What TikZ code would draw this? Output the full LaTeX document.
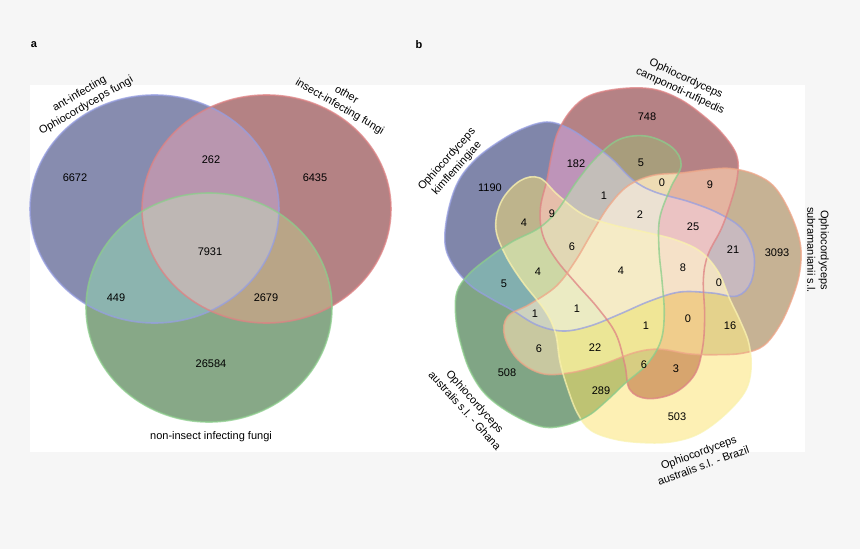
\documentclass[tikz,border=0pt]{standalone}
\usepackage{fontspec}
\setmainfont{Liberation Sans}
\definecolor{bggray}{RGB}{246,246,246}
% left panel
\definecolor{lB}{RGB}{135,140,175}
\definecolor{lR}{RGB}{180,130,132}
\definecolor{lG}{RGB}{135,168,135}
\definecolor{lBR}{RGB}{185,150,175}
\definecolor{lBG}{RGB}{140,180,175}
\definecolor{lRG}{RGB}{185,165,135}
\definecolor{lBRG}{RGB}{190,183,180}
\definecolor{eB}{RGB}{150,158,225}
\definecolor{eR}{RGB}{222,130,132}
\definecolor{eG}{RGB}{140,205,140}
\definecolor{eO}{RGB}{238,165,135}
\definecolor{eY}{RGB}{250,242,175}
% right panel
\definecolor{cB}{RGB}{128,134,170}
\definecolor{cR}{RGB}{181,130,133}
\definecolor{cO}{RGB}{198,178,148}
\definecolor{cY}{RGB}{253,240,180}
\definecolor{cG}{RGB}{128,165,133}
\definecolor{cBR}{RGB}{190,148,185}
\definecolor{cRG}{RGB}{168,157,124}
\definecolor{cRO}{RGB}{228,180,160}
\definecolor{cBY}{RGB}{190,180,140}
\definecolor{cBO}{RGB}{200,185,190}
\definecolor{cBG}{RGB}{130,175,175}
\definecolor{cOY}{RGB}{228,210,140}
\definecolor{cOG}{RGB}{200,200,160}
\definecolor{cRY}{RGB}{215,165,110}
\definecolor{cYG}{RGB}{190,195,115}
\definecolor{cROG}{RGB}{238,220,180}
\definecolor{cBRG}{RGB}{195,190,185}
\definecolor{cBRY}{RGB}{230,190,170}
\definecolor{cBRO}{RGB}{235,195,195}
\definecolor{cBYG}{RGB}{205,215,165}
\definecolor{cBOY}{RGB}{240,225,195}
\definecolor{cBOG}{RGB}{205,210,190}
\definecolor{cROY}{RGB}{240,205,140}
\definecolor{cOYG}{RGB}{235,230,150}
\definecolor{cRYG}{RGB}{215,205,130}
\definecolor{cBROG}{RGB}{235,225,210}
\definecolor{cBRYG}{RGB}{225,215,180}
\definecolor{cBROY}{RGB}{245,225,200}
\definecolor{cBOYG}{RGB}{235,235,195}
\definecolor{cROYG}{RGB}{240,230,150}
\definecolor{cALL}{RGB}{245,235,198}
\newcommand{\vblob}{plot[smooth cycle,tension=0.6] coordinates {(445,243) (448,212) (458,182) (475,160) (497,143) (522,129) (547,122) (568,128) (590,142) (612,159) (633,180) (655,192) (690,202) (720,214) (743,230) (754,255) (751,282) (737,296) (712,293) (680,292) (650,301) (620,314) (590,326) (563,331) (537,325) (512,310) (490,298) (470,285) (453,265)}}
\newcommand{\vreg}[3]{\begin{scope}#1\fill[#2,fill=#3]\vblob;\end{scope}}
\newcommand{\ellB}{(154.5,209) ellipse [x radius=124.5pt, y radius=114pt]}
\newcommand{\ellR}{(266.5,209) ellipse [x radius=124.5pt, y radius=114pt]}
\newcommand{\ellG}{(209,307.5) ellipse [x radius=123pt, y radius=114.5pt]}
\begin{document}
\begin{tikzpicture}[x=1pt,y=-1pt,
  num/.style={font=\fontsize{11}{13}\selectfont, inner sep=0pt},
  lab/.style={font=\fontsize{11}{13.5}\selectfont, align=center, inner sep=0pt},
  panel/.style={font=\fontsize{11}{13}\selectfont\bfseries, inner sep=0pt},
  shB/.style={}, shR/.style={rotate around={-72:(619,269)}},
  shO/.style={rotate around={-144:(619,269)}},
  shY/.style={rotate around={144:(619,269)}},
  shG/.style={rotate around={72:(619,269)}},
  edge/.style={line width=1.6pt, opacity=0.75}]
\fill[bggray] (0,0) rectangle (860,549);
\useasboundingbox (0,0) rectangle (860,549);
\fill[white] (30,85) rectangle (805,452);
\node[panel] (pa) at (34,45) {a};
\node[panel] (pb) at (419,45) {b};
% ---------- panel a ----------
\fill[lB] \ellB; \fill[lR] \ellR; \fill[lG] \ellG;
\begin{scope}\clip \ellB; \fill[lBR] \ellR; \end{scope}
\begin{scope}\clip \ellB; \fill[lBG] \ellG; \end{scope}
\begin{scope}\clip \ellR; \fill[lRG] \ellG; \end{scope}
\begin{scope}\clip \ellB; \clip \ellR; \fill[lBRG] \ellG; \end{scope}
\draw[eB, edge] \ellB; \draw[eR, edge] \ellR; \draw[eG, edge] \ellG;
\node[num] (a1) at (75,178) {6672};
\node[num] (a2) at (211,160) {262};
\node[num] (a3) at (315,178) {6435};
\node[num] (a4) at (210,252) {7931};
\node[num] (a5) at (116,298) {449};
\node[num] (a6) at (266,298) {2679};
\node[num] (a7) at (211,364) {26584};
\node[lab] (la3) at (211,437) {non-insect infecting fungi};
\node[lab, rotate=30] (la1) at (83,100) {ant-infecting\\Ophiocordyceps fungi};
\node[lab, rotate=-30] (la2) at (343,101) {other\\insect-infecting fungi};
% ---------- panel b ----------
% singles
\vreg{}{shB}{cB} \vreg{}{shR}{cR} \vreg{}{shO}{cO} \vreg{}{shY}{cY} \vreg{}{shG}{cG}
% pairs
\vreg{\clip[shB]\vblob;}{shR}{cBR}
\vreg{\clip[shB]\vblob;}{shO}{cBO}
\vreg{\clip[shB]\vblob;}{shY}{cBY}
\vreg{\clip[shB]\vblob;}{shG}{cBG}
\vreg{\clip[shR]\vblob;}{shO}{cRO}
\vreg{\clip[shR]\vblob;}{shY}{cRY}
\vreg{\clip[shR]\vblob;}{shG}{cRG}
\vreg{\clip[shO]\vblob;}{shY}{cOY}
\vreg{\clip[shO]\vblob;}{shG}{cOG}
\vreg{\clip[shY]\vblob;}{shG}{cYG}
% triples
\vreg{\clip[shB]\vblob;\clip[shR]\vblob;}{shO}{cBRO}
\vreg{\clip[shB]\vblob;\clip[shR]\vblob;}{shY}{cBRY}
\vreg{\clip[shB]\vblob;\clip[shR]\vblob;}{shG}{cBRG}
\vreg{\clip[shB]\vblob;\clip[shO]\vblob;}{shY}{cBOY}
\vreg{\clip[shB]\vblob;\clip[shO]\vblob;}{shG}{cBOG}
\vreg{\clip[shB]\vblob;\clip[shY]\vblob;}{shG}{cBYG}
\vreg{\clip[shR]\vblob;\clip[shO]\vblob;}{shY}{cROY}
\vreg{\clip[shR]\vblob;\clip[shO]\vblob;}{shG}{cROG}
\vreg{\clip[shR]\vblob;\clip[shY]\vblob;}{shG}{cRYG}
\vreg{\clip[shO]\vblob;\clip[shY]\vblob;}{shG}{cOYG}
% quads
\vreg{\clip[shB]\vblob;\clip[shR]\vblob;\clip[shO]\vblob;}{shY}{cBROY}
\vreg{\clip[shB]\vblob;\clip[shR]\vblob;\clip[shO]\vblob;}{shG}{cBROG}
\vreg{\clip[shB]\vblob;\clip[shR]\vblob;\clip[shY]\vblob;}{shG}{cBRYG}
\vreg{\clip[shB]\vblob;\clip[shO]\vblob;\clip[shY]\vblob;}{shG}{cBOYG}
\vreg{\clip[shR]\vblob;\clip[shO]\vblob;\clip[shY]\vblob;}{shG}{cROYG}
% all five
\vreg{\clip[shB]\vblob;\clip[shR]\vblob;\clip[shO]\vblob;\clip[shY]\vblob;}{shG}{cALL}
% outlines
\draw[shB, eB, edge] \vblob;
\draw[shR, eR, edge] \vblob;
\draw[shO, eO, edge] \vblob;
\draw[shY, eY, edge] \vblob;
\draw[shG, eG, edge] \vblob;
% numbers
\node[num] (b01) at (647,117) {748};
\node[num] (b02) at (490,188) {1190};
\node[num] (b03) at (777,253) {3093};
\node[num] (b04) at (677,417) {503};
\node[num] (b05) at (507,373) {508};
\node[num] (b06) at (576,164) {182};
\node[num] (b07) at (641,163) {5};
\node[num] (b08) at (662,183) {0};
\node[num] (b09) at (710,185) {9};
\node[num] (b10) at (604,196) {1};
\node[num] (b11) at (552,214) {9};
\node[num] (b12) at (524,223) {4};
\node[num] (b13) at (640,215) {2};
\node[num] (b14) at (693,227) {25};
\node[num] (b15) at (733,250) {21};
\node[num] (b16) at (572,247) {6};
\node[num] (b17) at (538,272) {4};
\node[num] (b18) at (621,271) {4};
\node[num] (b19) at (683,268) {8};
\node[num] (b20) at (719,283) {0};
\node[num] (b21) at (504,284) {5};
\node[num] (b22) at (535,314) {1};
\node[num] (b23) at (577,309) {1};
\node[num] (b24) at (646,326) {1};
\node[num] (b25) at (688,319) {0};
\node[num] (b26) at (730,326) {16};
\node[num] (b27) at (539,349) {6};
\node[num] (b28) at (595,348) {22};
\node[num] (b29) at (644,365) {6};
\node[num] (b30) at (676,369) {3};
\node[num] (b31) at (601,391) {289};
% set labels
\node[lab, rotate=48] (lb1) at (452,164) {Ophiocordyceps\\kimflemingiae};
\node[lab, rotate=-25] (lb2) at (683,85) {Ophiocordyceps\\camponoti-rufipedis};
\node[lab, rotate=-90] (lb3) at (818,250) {Ophiocordyceps\\subramanianii s.l.};
\node[lab, rotate=-48] (lb4) at (470,406) {Ophiocordyceps\\australis s.l. - Ghana};
\node[lab, rotate=20] (lb5) at (701,459) {Ophiocordyceps\\australis s.l. - Brazil};
\end{tikzpicture}
\end{document}
